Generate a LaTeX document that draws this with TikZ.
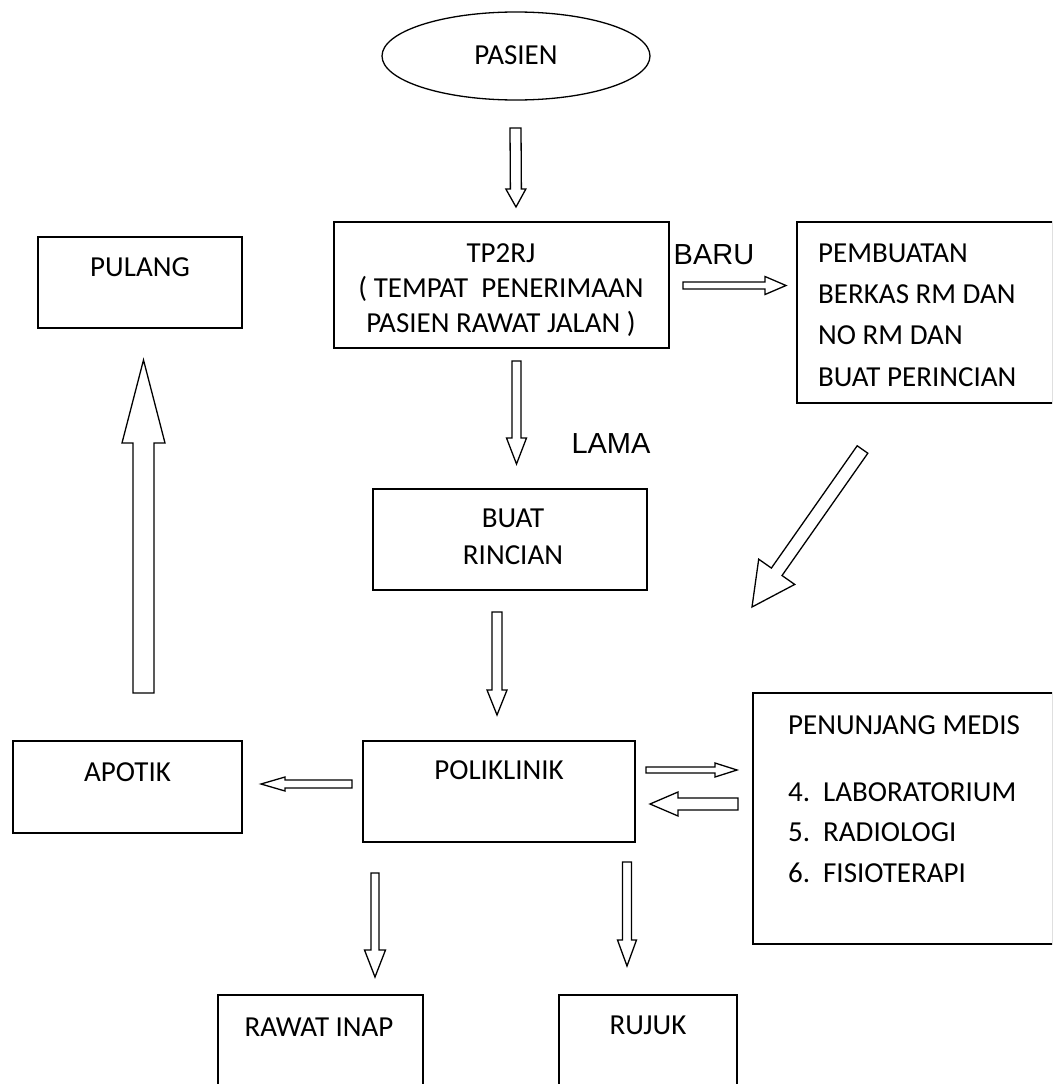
\documentclass[tikz,border=0pt]{standalone}
\usepackage{fontspec}
\setmainfont{Carlito}
\newfontfamily\arialfont{Liberation Sans}
\usetikzlibrary{shapes.geometric,calc}
\tikzset{
  box/.style={draw, line width=1.5pt, rectangle, inner sep=0pt, outer sep=0pt},
  txt/.style={inner sep=0pt, text height=18.5pt, text depth=0pt, font=\fontsize{29}{35}\selectfont},
  lbl/.style={inner sep=0pt, text height=20pt, text depth=0pt, font=\arialfont\fontsize{29}{35}\selectfont},
  blockarr/.style={draw, line width=1.3pt, line join=miter, fill=white},
}
\newcommand\hollowarrow[5]{%
  \draw[blockarr] let \p1=($(#2)-(#1)$), \n1={atan2(\y1,\x1)}, \n2={veclen(\x1,\y1)} in
   [shift={(#1)}, rotate=\n1]
   (0pt,#3pt) -- ({\n2-#5pt},#3pt) -- ({\n2-#5pt},#4pt) -- (\n2,0pt)
   -- ({\n2-#5pt},-#4pt) -- ({\n2-#5pt},-#3pt) -- (0pt,-#3pt) -- cycle;
}
\begin{document}
\begin{tikzpicture}[x=1pt,y=-1pt]
\useasboundingbox (0,0) rectangle (1052,1084);
\clip (0,0) rectangle (1052,1084);
\fill[white] (0,0) rectangle (1052,1084);

% nodes (multi-line text nodes are placed at the centre of their last line)
\node[draw, line width=1.3pt, ellipse, minimum width=268pt, minimum height=88pt, inner sep=0pt] (pasien) at (516,56) {};
\node[txt] (pasienT) at (516,55) {PASIEN};

\node[box, minimum width=335pt, minimum height=126pt] (tp) at (501.5,285) {};
\node[txt, align=center, font=\fontsize{29}{35}\selectfont] (tpT) at (501,323) {TP2RJ\\( TEMPAT\ \ PENERIMAAN\\PASIEN RAWAT JALAN )};

\node[box, minimum width=256pt, minimum height=181pt] (baru) at (925,312.5) {};
\node[txt, align=left, anchor=west, font=\fontsize{29}{41.3}\selectfont] (baruT) at (818,377) {PEMBUATAN\\BERKAS RM DAN\\NO RM DAN\\BUAT PERINCIAN};

\node[box, minimum width=274pt, minimum height=101pt] (buat) at (510,539.5) {};
\node[txt, align=center, font=\fontsize{29}{37}\selectfont] (buatT) at (513,555) {BUAT\\RINCIAN};

\node[box, minimum width=272pt, minimum height=101pt] (poli) at (499,791.5) {};
\node[txt] (poliT) at (499,770) {POLIKLINIK};

\node[box, minimum width=300pt, minimum height=251pt] (pen) at (903,818.5) {};
\node[txt, align=left, anchor=west, font=\fontsize{29}{40.5}\selectfont] (penT) at (788,873) {PENUNJANG MEDIS\\[26.5pt]\makebox[35pt][l]{4.}LABORATORIUM\\\makebox[35pt][l]{5.}RADIOLOGI\\\makebox[35pt][l]{6.}FISIOTERAPI};

\node[box, minimum width=229pt, minimum height=92pt] (apotik) at (127.5,787) {};
\node[txt] (apotikT) at (127.5,772) {APOTIK};

\node[box, minimum width=204pt, minimum height=91pt] (pulang) at (140,282.5) {};
\node[txt] (pulangT) at (140,267) {PULANG};

\node[box, minimum width=205pt, minimum height=110pt] (rawat) at (320.5,1050) {};
\node[txt] (rawatT) at (319,1027) {RAWAT INAP};

\node[box, minimum width=178pt, minimum height=110pt] (rujuk) at (648,1050) {};
\node[txt] (rujukT) at (648,1025) {RUJUK};

\node[lbl] (baruL) at (714,254) {BARU};
\node[lbl] (lamaL) at (611,443) {LAMA};

% arrow end points
\coordinate (a1s) at (515.5,128); \coordinate (a1e) at (516,207);
\coordinate (a2s) at (683,285.5); \coordinate (a2e) at (786,285.5);
\coordinate (a3s) at (516.5,361); \coordinate (a3e) at (516.5,464);
\coordinate (a4s) at (862.5,449.5); \coordinate (a4e) at (752,607);
\coordinate (a5s) at (497,612); \coordinate (a5e) at (497,715);
\coordinate (a6s) at (646,770); \coordinate (a6e) at (737,770);
\coordinate (a7s) at (738,804); \coordinate (a7e) at (650,804);
\coordinate (a8s) at (352,784); \coordinate (a8e) at (261,784);
\coordinate (a9s) at (143.5,693); \coordinate (a9e) at (143.5,360);
\coordinate (a10s) at (375,873); \coordinate (a10e) at (375,977);
\coordinate (a11s) at (627,862); \coordinate (a11e) at (627,966);

\hollowarrow{a1s}{a1e}{5.5}{10}{18}
\hollowarrow{a2s}{a2e}{3.5}{9}{21}
\hollowarrow{a3s}{a3e}{4.5}{10}{26}
\hollowarrow{a4s}{a4e}{6.5}{22}{43}
\hollowarrow{a5s}{a5e}{5}{10}{25}
\hollowarrow{a6s}{a6e}{3}{7}{22}
\hollowarrow{a7s}{a7e}{6}{12}{28}
\hollowarrow{a8s}{a8e}{4}{7}{24}
\hollowarrow{a9s}{a9e}{10.5}{21.5}{83}
\hollowarrow{a10s}{a10e}{4}{10.5}{27}
\hollowarrow{a11s}{a11e}{4.5}{9.5}{26}
\end{tikzpicture}
\end{document}
